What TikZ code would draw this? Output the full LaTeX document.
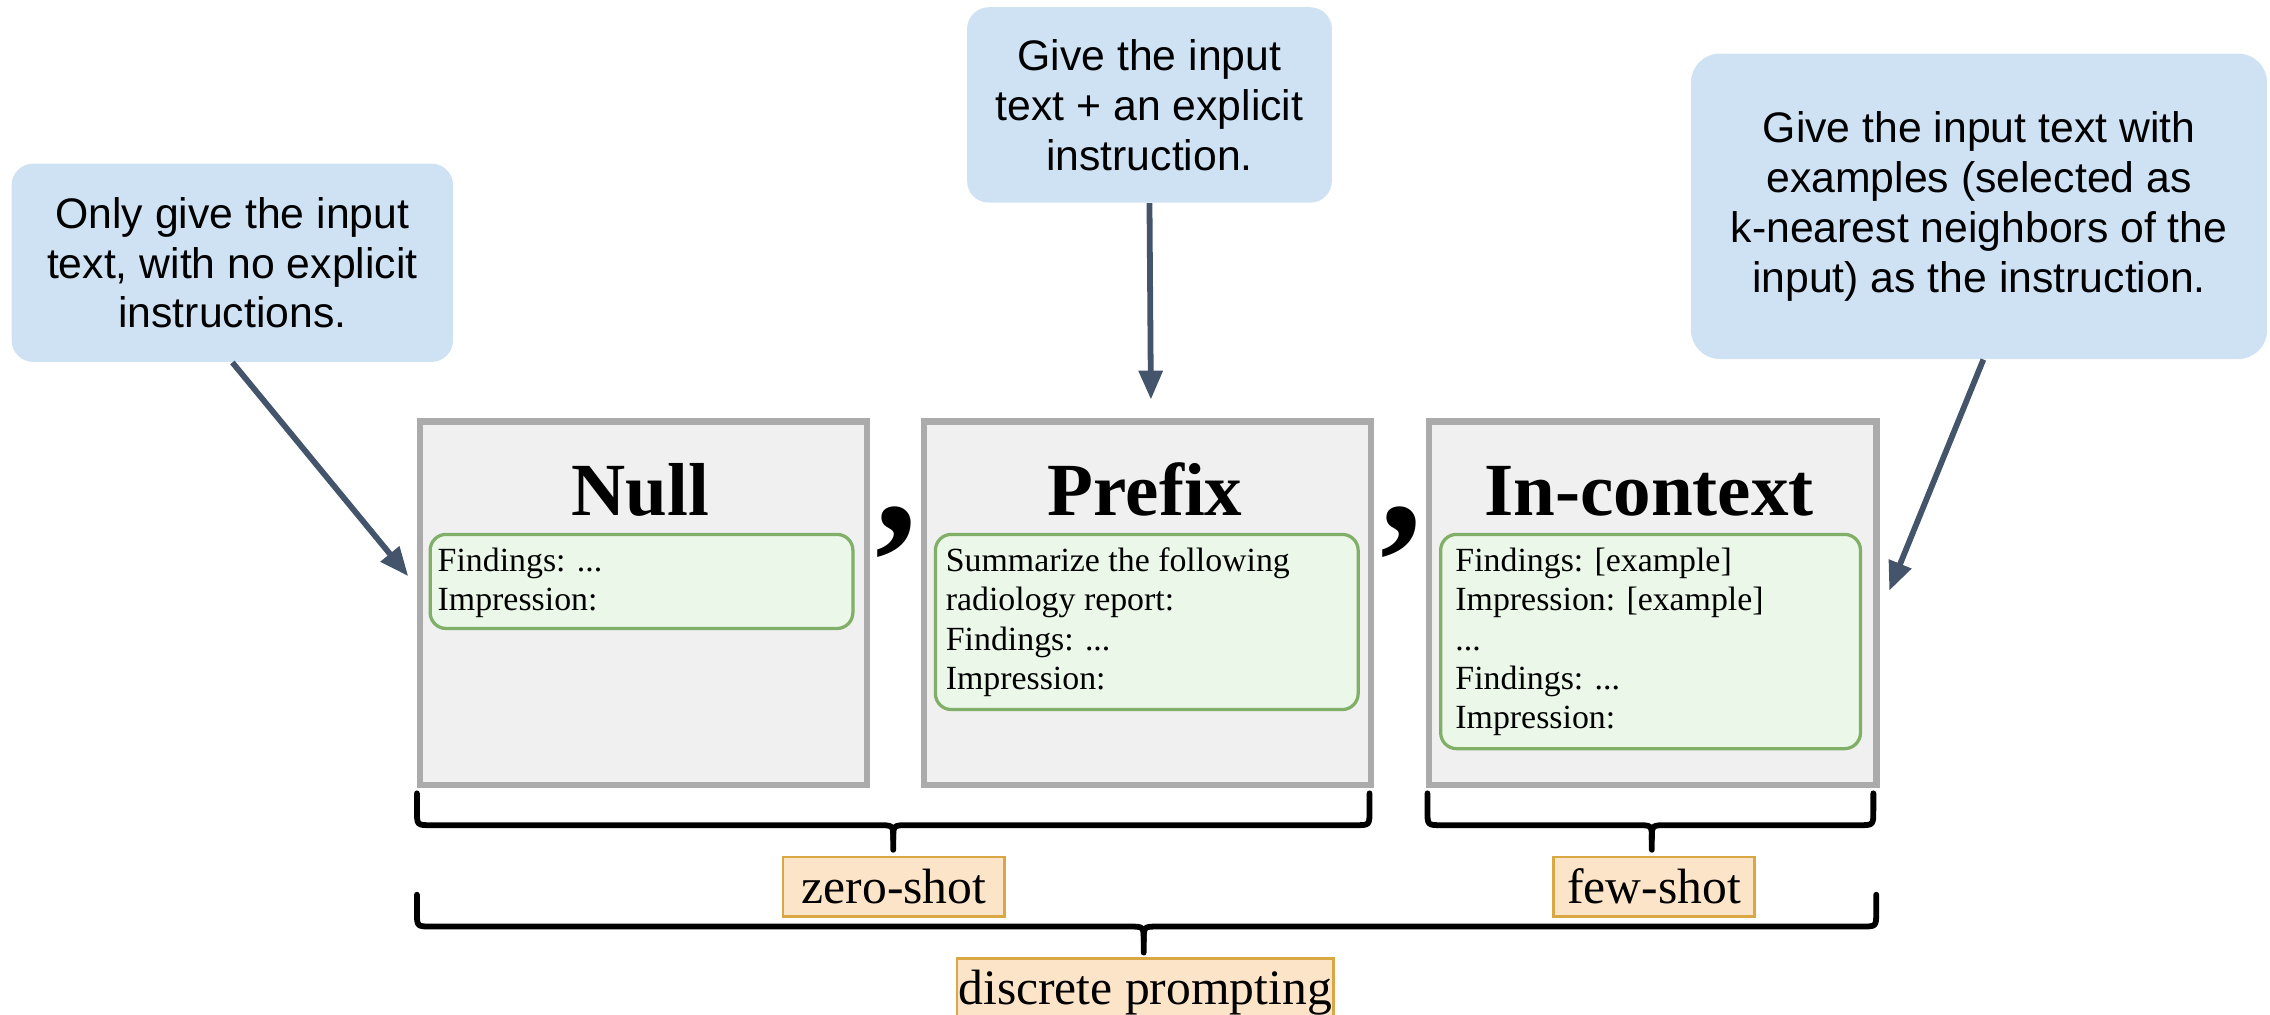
\documentclass[tikz,border=0pt]{standalone}
\usepackage{fontspec}
\setmainfont{Liberation Serif}
\newfontfamily\arialf{Liberation Sans}
\usetikzlibrary{arrows.meta}
\definecolor{calloutblue}{HTML}{CFE2F3}
\definecolor{arrowcol}{HTML}{44546A}
\definecolor{boxgray}{HTML}{F0F0F0}
\definecolor{boxborder}{HTML}{ABABAB}
\definecolor{greenfill}{HTML}{EBF7E9}
\definecolor{greenline}{HTML}{80B068}
\definecolor{peach}{HTML}{FCE4C8}
\definecolor{peachline}{HTML}{D9A845}
\newcommand{\mybrace}[6]{%
 \draw[brace] (#1,#3) -- (#1,#4-10) .. controls (#1,#4) .. (#1+10,#4) -- (#5-10,#4) .. controls (#5,#4) .. (#5,#4+10) -- (#5,#6);
 \draw[brace] (#2,#3) -- (#2,#4-10) .. controls (#2,#4) .. (#2-10,#4) -- (#5+10,#4) .. controls (#5,#4) .. (#5,#4+10);
}
\begin{document}
\begin{tikzpicture}[x=0.2mm,y=-0.2mm,
 callout/.style={fill=calloutblue, rounded corners=3mm, font=\arialf\fontsize{16.8}{19.6}\selectfont, align=center, inner sep=0pt},
 arr/.style={draw=arrowcol, line width=0.8mm, -{Triangle[length=4mm,width=3.2mm]}},
 panel/.style={fill=boxgray, draw=boxborder, line width=0.85mm, inner sep=0pt, anchor=north west, minimum width=61.8mm, minimum height=50.2mm},
 prompt/.style={fill=greenfill, draw=greenline, line width=0.45mm, rounded corners=2.2mm, inner sep=0pt, anchor=north west},
 ptext/.style={font=\fontsize{13.3}{15.3}\selectfont, anchor=base west, inner sep=0pt},
 title/.style={font=\bfseries\fontsize{29.5}{30}\selectfont, anchor=base, inner sep=0pt},
 bigcomma/.style={font=\bfseries\fontsize{66}{66}\selectfont, anchor=base west, inner sep=0pt},
 tag/.style={fill=peach, draw=peachline, line width=0.35mm, inner sep=0pt, font=\fontsize{19.5}{19.5}\selectfont},
 brace/.style={draw=black, line width=0.8mm, line cap=round, line join=round}
]
\useasboundingbox (0,0) rectangle (1568,701);
\clip (0,0) rectangle (1568,701);

% callouts
\node[callout, minimum width=61mm, minimum height=27.4mm] (cl) at (160.5,181.5)
 {Only give the input\\text, with no explicit\\instructions.};
\node[callout, minimum width=50.4mm, minimum height=27mm] (cm) at (794,72.5)
 {Give the input\\text + an explicit\\instruction.};
\node[callout, rounded corners=4mm, minimum width=79.6mm, minimum height=42.2mm] (cr) at (1367,142.5)
 {Give the input text with\\examples (selected as\\k-nearest neighbors of the\\input) as the instruction.};

% panels
\node[panel] (pnull) at (288,289) {};
\node[panel] (ppre) at (636,289) {};
\node[panel] (pin) at (985,289) {};

\node[title] (tnull) at (442.5,356) {Null};
\node[title] (tpre) at (791,356) {Prefix};
\node[title] (tin) at (1139,356) {In-context};

\node[bigcomma] (comma1) at (604.5,367) {,};
\node[bigcomma] (comma2) at (953.5,367) {,};

% prompt boxes
\node[prompt, minimum width=58.4mm, minimum height=13mm] (gnull) at (296,368) {};
\node[prompt, minimum width=58.4mm, minimum height=24.2mm] (gpre) at (645,368) {};
\node[prompt, minimum width=58mm, minimum height=29.6mm] (gin) at (994,368) {};

\node[ptext] (n1) at (302,395) {Findings: ...};
\node[ptext] (n2) at (302,422) {Impression:};

\node[ptext] (p1) at (653,395) {Summarize the following};
\node[ptext] (p2) at (653,422) {radiology report:};
\node[ptext] (p3) at (653,449) {Findings: ...};
\node[ptext] (p4) at (653,476) {Impression:};

\node[ptext] (i1) at (1005,395) {Findings: [example]};
\node[ptext] (i2) at (1005,422) {Impression: [example]};
\node[ptext] (i3) at (1005,449) {...};
\node[ptext] (i4) at (1005,476) {Findings: ...};
\node[ptext] (i5) at (1005,503) {Impression:};

% arrows
\coordinate (e1) at (282,398);
\coordinate (e2) at (795,276);
\coordinate (e3) at (1305,408);
\draw[arr] (cl.south) -- (e1);
\draw[arr] (cm.south) -- (e2);
\draw[arr] ([xshift=0.6mm]cr.south) -- (e3);

% braces
\mybrace{288}{946}{548}{570}{617}{587}
\mybrace{986}{1294}{548}{570}{1141}{587}
\mybrace{288}{1296}{618}{640}{790}{658}

% tags
\node[tag, minimum width=30.6mm, minimum height=8.2mm] (zs) at (617.5,612.5) {zero-shot};
\node[tag, minimum width=27.8mm, minimum height=8.2mm] (fs) at (1142.5,612.5) {few-shot};
\node[tag, minimum width=52mm, minimum height=9.6mm] (dp) at (791,686) {discrete prompting};
\end{tikzpicture}
\end{document}
